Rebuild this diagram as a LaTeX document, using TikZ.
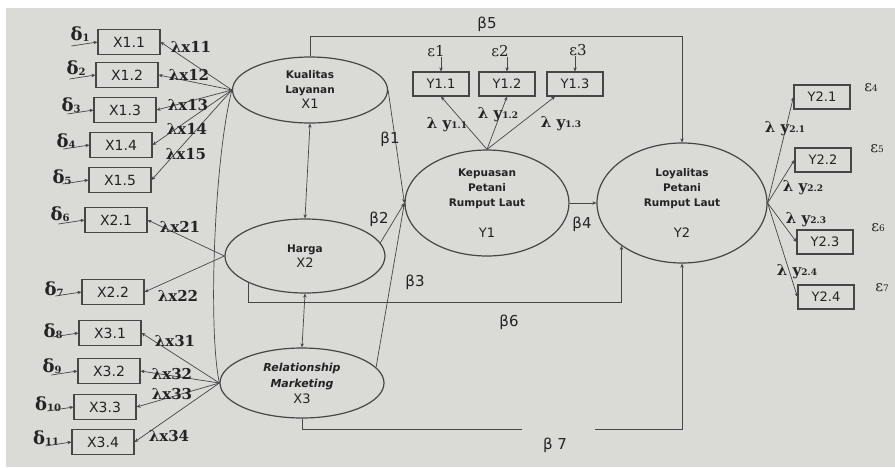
\documentclass[tikz,border=0pt]{standalone}
\usepackage{fontspec}
\setmainfont{DejaVu Sans}
\newfontfamily\gk{DejaVu Serif}
\usetikzlibrary{shapes.geometric,arrows.meta,calc}
\definecolor{bg}{RGB}{218,218,214}
\definecolor{ink}{RGB}{70,70,70}
\definecolor{txt}{RGB}{35,35,35}
\newcommand\mydelta[1]{{\gk\bfseries\fontsize{18}{18}\selectfont δ\raisebox{-1pt}{\fontsize{10}{10}\selectfont #1}}}
\newcommand\mylx[1]{{\gk\bfseries\fontsize{15}{15}\selectfont λx#1}}
\newcommand\mylamy[1]{{\gk\bfseries\fontsize{15}{15}\selectfont λ y\fontsize{9}{9}\selectfont #1}}
\newcommand\myeps[1]{{\gk\fontsize{15}{15}\selectfont ε#1}}
\newcommand\myepss[1]{{\gk\fontsize{15}{15}\selectfont ε\fontsize{9}{9}\selectfont #1}}
\begin{document}
\begin{tikzpicture}[x=1pt,y=-1pt,
  ind/.style={draw=ink, line width=1.1pt, minimum width=62pt, minimum height=25pt, inner sep=0pt, font=\fontsize{14}{14}\selectfont, text=txt},
  indy/.style={ind, minimum width=56pt, minimum height=24pt, font=\fontsize{13}{13}\selectfont},
  lat/.style={ellipse, draw=ink, line width=1.2pt, inner sep=0pt, align=center, text=txt, font=\fontsize{10.5}{15}\selectfont\bfseries},
  lnk/.style={draw=ink, line width=0.7pt},
  arr/.style={lnk, -{Stealth[length=4pt,width=3.5pt]}},
  darr/.style={lnk, {Stealth[length=4pt,width=3.5pt]}-{Stealth[length=4pt,width=3.5pt]}},
  lab/.style={text=txt, inner sep=0pt},
  bl/.style={lab, font=\fontsize{15}{15}\selectfont},
]
\fill[white] (0,0) rectangle (895,467);
\fill[bg] (6,8) rectangle (895,467);
\useasboundingbox (0,0) rectangle (895,467);

% latent variables
\node[lat, minimum width=155pt, minimum height=66pt] (X1) at (310,90) {Kualitas\\Layanan\\{\fontsize{13}{13}\selectfont\mdseries X1}};
\node[lat, minimum width=160pt, minimum height=74pt] (X2) at (305,256) {Harga\\{\fontsize{13}{13}\selectfont\mdseries X2}};
\node[lat, minimum width=164pt, minimum height=70pt, font=\fontsize{11}{16}\selectfont\bfseries\itshape] (X3) at (302,383) {Relationship\\Marketing\\{\fontsize{13}{13}\selectfont\mdseries\upshape X3}};
\node[lat, minimum width=164pt, minimum height=106pt] (Y1) at (487,203) {Kepuasan\\Petani\\Rumput Laut\\[16pt]{\fontsize{13}{13}\selectfont\mdseries Y1}};
\node[lat, minimum width=170pt, minimum height=120pt] (Y2) at (682,203) {Loyalitas\\Petani\\Rumput Laut\\[16pt]{\fontsize{13}{13}\selectfont\mdseries Y2}};

% X indicators
\node[ind] (x11) at (129,42) {X1.1};
\node[ind] (x12) at (127,75) {X1.2};
\node[ind] (x13) at (125,110) {X1.3};
\node[ind] (x14) at (121,145) {X1.4};
\node[ind] (x15) at (120,180) {X1.5};
\node[ind] (x21) at (116,220) {X2.1};
\node[ind] (x22) at (113,292) {X2.2};
\node[ind] (x31) at (110,333) {X3.1};
\node[ind] (x32) at (109,371) {X3.2};
\node[ind] (x33) at (105,407) {X3.3};
\node[ind] (x34) at (103,442) {X3.4};

% deltas
\node[lab] (d1) at (80,34) {\mydelta{1}};
\node[lab] (d2) at (76,68) {\mydelta{2}};
\node[lab] (d3) at (71,105) {\mydelta{3}};
\node[lab] (d4) at (66,141) {\mydelta{4}};
\node[lab] (d5) at (62,177) {\mydelta{5}};
\node[lab] (d6) at (60,214) {\mydelta{6}};
\node[lab] (d7) at (54,289) {\mydelta{7}};
\node[lab] (d8) at (53,331) {\mydelta{8}};
\node[lab] (d9) at (52,366) {\mydelta{9}};
\node[lab] (d10) at (48,404) {\mydelta{10}};
\node[lab] (d11) at (46,438) {\mydelta{11}};
\foreach \b in {x11,x12,x13,x14,x15,x21,x22,x31,x32,x33,x34}{
  \coordinate (e\b) at ($(\b.west)+(-26,4)$);
  \draw[arr] (e\b) -- (\b.west);
}

% loadings to X indicators
\foreach \b in {x11,x12,x13,x14,x15}{\draw[arr] (X1.west) -- (\b.east);}
\foreach \b in {x21,x22}{\draw[arr] (X2.west) -- (\b.east);}
\foreach \b in {x31,x32,x33,x34}{\draw[arr] (X3.west) -- (\b.east);}

\node[lab] at (191,47) {\mylx{11}};
\node[lab] at (189,75) {\mylx{12}};
\node[lab] at (188,105) {\mylx{13}};
\node[lab] at (187,129) {\mylx{14}};
\node[lab] at (186,154) {\mylx{15}};
\node[lab] at (180,227) {\mylx{21}};
\node[lab] at (178,296) {\mylx{22}};
\node[lab] at (175,341) {\mylx{31}};
\node[lab] at (172,374) {\mylx{32}};
\node[lab] at (172,394) {\mylx{33}};
\node[lab] at (169,436) {\mylx{34}};

% covariances
\draw[darr] (X1.south) -- (X2.north);
\draw[darr] (X2.south) -- (X3.north);
\draw[lnk] (X1.west) .. controls (214,160) and (208,330) .. (X3.west);

% Y1 indicators
\node[indy] (y11) at (441,84) {Y1.1};
\node[indy] (y12) at (507,84) {Y1.2};
\node[indy] (y13) at (575,84) {Y1.3};
\node[lab] (ee1) at (436,51) {\myeps{1}};
\node[lab] (ee2) at (500,51) {\myeps{2}};
\node[lab] (ee3) at (578,50) {\myeps{3}};
\draw[arr] (ee1.south -| y11.north) -- (y11.north);
\draw[arr] (ee2.south -| y12.north) -- (y12.north);
\draw[arr] (ee3.south -| y13.north) -- (y13.north);
\draw[arr] (Y1.north) -- (y11.south);
\draw[arr] (Y1.north) -- (y12.south);
\draw[arr] (Y1.north) -- ([xshift=-20pt]y13.south);
\node[lab] at (447,125) {\mylamy{1.1}};
\node[lab] at (498,115) {\mylamy{1.2}};
\node[lab] at (561,124) {\mylamy{1.3}};

% Y2 indicators
\node[indy] (y21) at (822,97) {Y2.1};
\node[indy] (y22) at (823,160) {Y2.2};
\node[indy] (y23) at (825,242) {Y2.3};
\node[indy] (y24) at (826,297) {Y2.4};
\node[lab] at (871,88) {\myepss{4}};
\node[lab] at (877,149) {\myepss{5}};
\node[lab] at (878,228) {\myepss{6}};
\node[lab] at (882,288) {\myepss{7}};
\foreach \b in {y21,y22,y23,y24}{\draw[arr] (Y2.east) -- (\b.west);}
\node[lab] at (785,129) {\mylamy{2.1}};
\node[lab] at (803,188) {\mylamy{2.2}};
\node[lab] at (806,220) {\mylamy{2.3}};
\node[lab] at (797,272) {\mylamy{2.4}};

% structural paths
\draw[arr] (X1.east) -- (Y1.west);
\draw[arr] (X2.10) -- (Y1.west);
\draw[arr] (X3.12) -- (Y1.west);
\draw[arr] (Y1.east) -- (Y2.west);
\draw[arr] (X1.north) -- ++(0,-20) -| (Y2.north);
\coordinate (b6y) at (0,302);
\draw[arr] (X2.south west) -- (X2.south west |- b6y) -| (Y2.south west);
\coordinate (g1) at (522,429);
\coordinate (g2) at (595,429);
\draw[lnk] (X3.south) |- (g1);
\draw[arr] (g2) -| (Y2.south);

\node[bl] at (487,24) {β5};
\node[bl] at (390,139) {β1};
\node[bl] at (379,219) {β2};
\node[bl] at (415,282) {β3};
\node[bl] at (582,224) {β4};
\node[bl] at (509,322) {β6};
\node[bl] at (555,445) {β 7};
\end{tikzpicture}
\end{document}
